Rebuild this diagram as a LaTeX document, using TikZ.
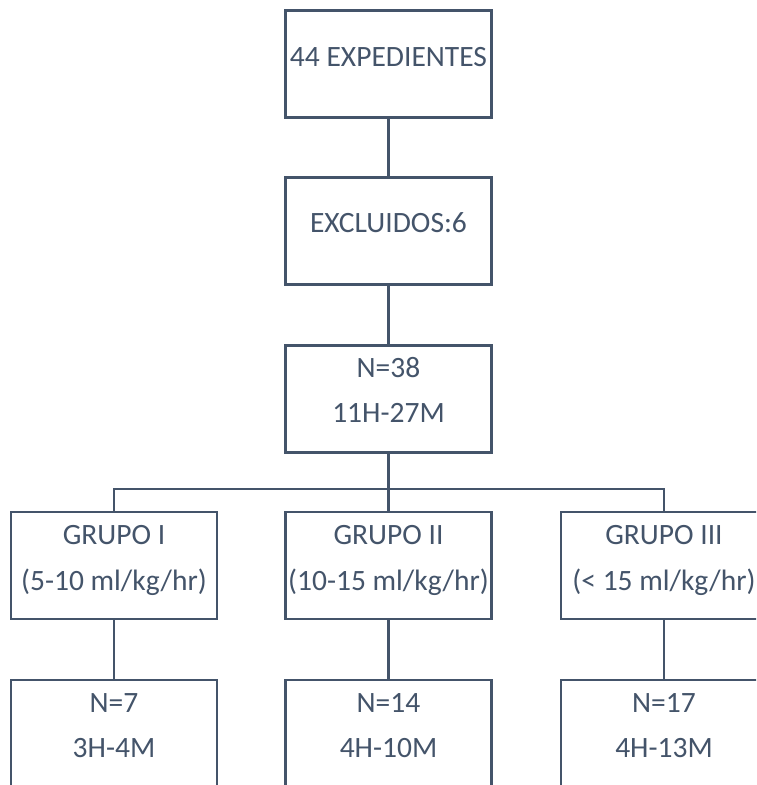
\documentclass[tikz,border=0pt]{standalone}
\usepackage{fontspec}
\setmainfont{Carlito}
\definecolor{slate}{HTML}{44546A}
\begin{document}
\begin{tikzpicture}[x=1pt,y=-1pt,
  box/.style={draw=slate,line width=2.6pt,fill=white,minimum width=206pt,minimum height=107pt,inner sep=0pt},
  txt/.style={text=slate,font=\fontsize{29.5}{34}\selectfont,inner sep=0pt,align=center},
  link/.style={draw=slate,line width=2.2pt}]
\useasboundingbox (0,0) rectangle (756,785);
\clip (0,0) rectangle (756,785);
\coordinate (bus) at (388.5,489);
\node[box] (top) at (388.5,64) {};
\node[box] (ex) at (388.5,231) {};
\node[box] (n38) at (388.5,399) {};
\node[box] (g1) at (114,565.5) {};
\node[box] (g2) at (388.5,565.5) {};
\node[box] (g3) at (664,565.5) {};
\node[box,minimum height=120pt] (r1) at (114,740) {};
\node[box,minimum height=120pt] (r2) at (388.5,740) {};
\node[box,minimum height=120pt] (r3) at (664,740) {};
\draw[link] (top.south) -- (ex.north);
\draw[link] (ex.south) -- (n38.north);
\draw[link] (n38.south) -- (bus);
\draw[link] (g1.north) |- (bus) -| (g3.north);
\draw[link] (bus) -- (g2.north);
\draw[link] (g1.south) -- (r1.north);
\draw[link] (g2.south) -- (r2.north);
\draw[link] (g3.south) -- (r3.north);
\node[txt] (t1) at (388.5,57) {44 EXPEDIENTES};
\node[txt] (t2) at (388.5,223) {EXCLUIDOS:6};
\node[txt] (t3a) at (388.5,368) {N=38};
\node[txt] (t3b) at (388.5,413) {11H-27M};
\node[txt] (g1a) at (114,535) {GRUPO I};
\node[txt] (g1b) at (114,582) {(5-10 ml/kg/hr)};
\node[txt] (g2a) at (388.5,535) {GRUPO II};
\node[txt] (g2b) at (388.5,582) {(10-15 ml/kg/hr)};
\node[txt] (g3a) at (664,535) {GRUPO III};
\node[txt] (g3b) at (664,582) {(< 15 ml/kg/hr)};
\node[txt] (r1a) at (114,703) {N=7};
\node[txt] (r1b) at (114,748) {3H-4M};
\node[txt] (r2a) at (388.5,703) {N=14};
\node[txt] (r2b) at (388.5,748) {4H-10M};
\node[txt] (r3a) at (664,703) {N=17};
\node[txt] (r3b) at (664,748) {4H-13M};
\end{tikzpicture}
\end{document}
